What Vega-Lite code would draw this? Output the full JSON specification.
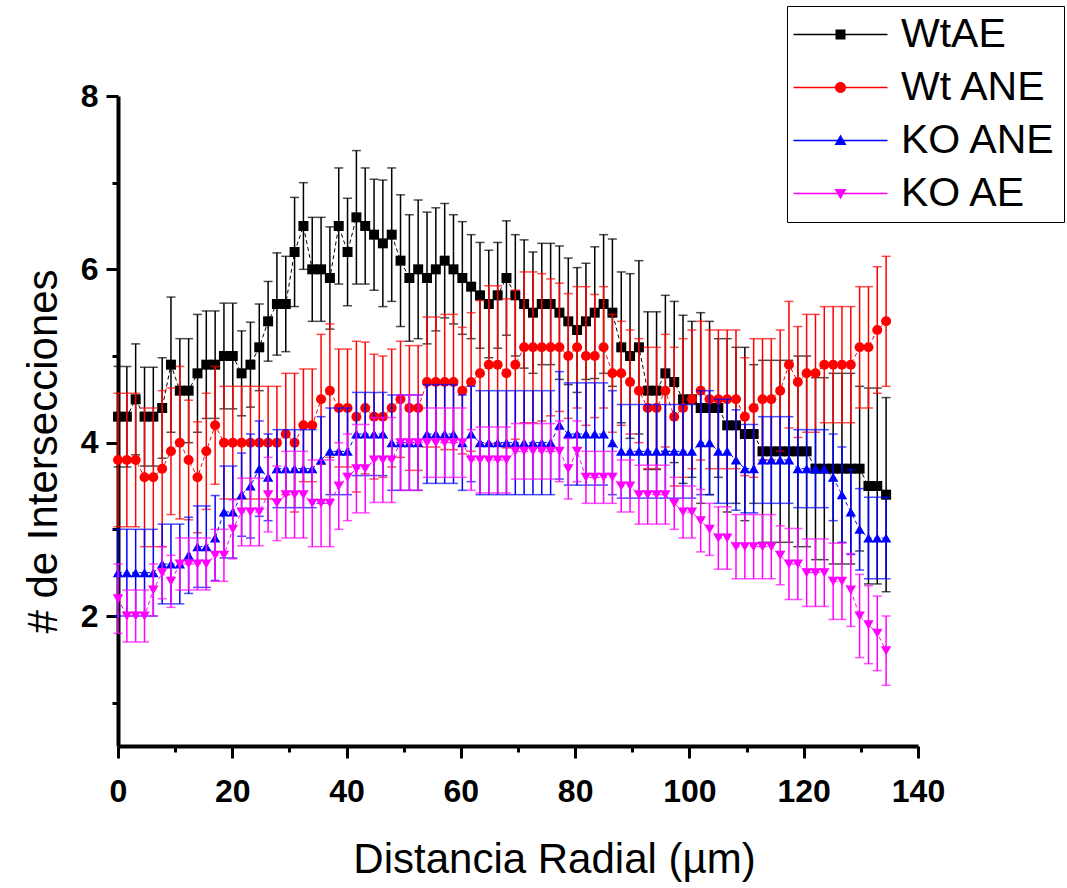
{
"$schema":"https://vega.github.io/schema/vega-lite/v6.json",
"width":800,"height":650,
"autosize":"none",
"padding":{"left":118,"top":96,"right":149,"bottom":142},
"background":"white",
"config":{"view":{"stroke":null},"font":"Liberation Sans"},
"data":{"values":[
{"s":"WtAE","x":0,"y":4.3,"e":0.58},{"s":"WtAE","x":1.55,"y":4.3,"e":0.58},{"s":"WtAE","x":3.09,"y":4.5,"e":0.64},{"s":"WtAE","x":4.64,"y":4.3,"e":0.57},{"s":"WtAE","x":6.18,"y":4.3,"e":0.57},{"s":"WtAE","x":7.73,"y":4.4,"e":0.58},{"s":"WtAE","x":9.27,"y":4.9,"e":0.78},{"s":"WtAE","x":10.82,"y":4.6,"e":0.6},{"s":"WtAE","x":12.36,"y":4.6,"e":0.6},{"s":"WtAE","x":13.91,"y":4.8,"e":0.68},{"s":"WtAE","x":15.45,"y":4.9,"e":0.62},{"s":"WtAE","x":17,"y":4.9,"e":0.62},{"s":"WtAE","x":18.54,"y":5.0,"e":0.61},{"s":"WtAE","x":20.09,"y":5.0,"e":0.61},{"s":"WtAE","x":21.63,"y":4.8,"e":0.49},{"s":"WtAE","x":23.18,"y":4.9,"e":0.49},{"s":"WtAE","x":24.72,"y":5.1,"e":0.5},{"s":"WtAE","x":26.27,"y":5.4,"e":0.46},{"s":"WtAE","x":27.81,"y":5.6,"e":0.59},{"s":"WtAE","x":29.36,"y":5.6,"e":0.55},{"s":"WtAE","x":30.9,"y":6.2,"e":0.63},{"s":"WtAE","x":32.45,"y":6.5,"e":0.5},{"s":"WtAE","x":33.99,"y":6.0,"e":0.6},{"s":"WtAE","x":35.54,"y":6.0,"e":0.6},{"s":"WtAE","x":37.08,"y":5.9,"e":0.59},{"s":"WtAE","x":38.63,"y":6.5,"e":0.67},{"s":"WtAE","x":40.17,"y":6.2,"e":0.62},{"s":"WtAE","x":41.72,"y":6.6,"e":0.77},{"s":"WtAE","x":43.26,"y":6.5,"e":0.67},{"s":"WtAE","x":44.81,"y":6.4,"e":0.64},{"s":"WtAE","x":46.35,"y":6.3,"e":0.73},{"s":"WtAE","x":47.9,"y":6.4,"e":0.77},{"s":"WtAE","x":49.44,"y":6.1,"e":0.76},{"s":"WtAE","x":50.99,"y":5.9,"e":0.73},{"s":"WtAE","x":52.53,"y":6.0,"e":0.8},{"s":"WtAE","x":54.08,"y":5.9,"e":0.76},{"s":"WtAE","x":55.62,"y":6.0,"e":0.71},{"s":"WtAE","x":57.17,"y":6.1,"e":0.66},{"s":"WtAE","x":58.71,"y":6.0,"e":0.63},{"s":"WtAE","x":60.26,"y":5.9,"e":0.65},{"s":"WtAE","x":61.8,"y":5.8,"e":0.6},{"s":"WtAE","x":63.35,"y":5.7,"e":0.61},{"s":"WtAE","x":64.89,"y":5.6,"e":0.62},{"s":"WtAE","x":66.44,"y":5.7,"e":0.61},{"s":"WtAE","x":67.98,"y":5.9,"e":0.66},{"s":"WtAE","x":69.53,"y":5.7,"e":0.7},{"s":"WtAE","x":71.07,"y":5.6,"e":0.74},{"s":"WtAE","x":72.62,"y":5.5,"e":0.7},{"s":"WtAE","x":74.16,"y":5.6,"e":0.7},{"s":"WtAE","x":75.71,"y":5.6,"e":0.7},{"s":"WtAE","x":77.25,"y":5.5,"e":0.77},{"s":"WtAE","x":78.8,"y":5.4,"e":0.73},{"s":"WtAE","x":80.34,"y":5.3,"e":0.72},{"s":"WtAE","x":81.89,"y":5.4,"e":0.67},{"s":"WtAE","x":83.43,"y":5.5,"e":0.76},{"s":"WtAE","x":84.98,"y":5.6,"e":0.8},{"s":"WtAE","x":86.52,"y":5.5,"e":0.85},{"s":"WtAE","x":88.07,"y":5.1,"e":0.87},{"s":"WtAE","x":89.61,"y":5.0,"e":0.95},{"s":"WtAE","x":91.16,"y":5.1,"e":1.0},{"s":"WtAE","x":92.7,"y":4.6,"e":0.91},{"s":"WtAE","x":94.25,"y":4.6,"e":0.91},{"s":"WtAE","x":95.79,"y":4.8,"e":0.9},{"s":"WtAE","x":97.34,"y":4.7,"e":0.93},{"s":"WtAE","x":98.88,"y":4.5,"e":0.97},{"s":"WtAE","x":100.43,"y":4.5,"e":0.9},{"s":"WtAE","x":101.97,"y":4.4,"e":1.1},{"s":"WtAE","x":103.52,"y":4.4,"e":1.0},{"s":"WtAE","x":105.06,"y":4.4,"e":0.8},{"s":"WtAE","x":106.61,"y":4.2,"e":1.0},{"s":"WtAE","x":108.15,"y":4.2,"e":0.9},{"s":"WtAE","x":109.7,"y":4.1,"e":1.0},{"s":"WtAE","x":111.24,"y":4.1,"e":0.8},{"s":"WtAE","x":112.79,"y":3.9,"e":1.05},{"s":"WtAE","x":114.33,"y":3.9,"e":1.05},{"s":"WtAE","x":115.88,"y":3.9,"e":1.05},{"s":"WtAE","x":117.42,"y":3.9,"e":1.05},{"s":"WtAE","x":118.97,"y":3.9,"e":1.1},{"s":"WtAE","x":120.51,"y":3.9,"e":1.1},{"s":"WtAE","x":122.06,"y":3.7,"e":1.05},{"s":"WtAE","x":123.6,"y":3.7,"e":1.05},{"s":"WtAE","x":125.15,"y":3.7,"e":1.1},{"s":"WtAE","x":126.69,"y":3.7,"e":1.1},{"s":"WtAE","x":128.24,"y":3.7,"e":1.1},{"s":"WtAE","x":129.78,"y":3.7,"e":0.95},{"s":"WtAE","x":131.33,"y":3.5,"e":1.13},{"s":"WtAE","x":132.87,"y":3.5,"e":1.13},{"s":"WtAE","x":134.42,"y":3.4,"e":1.12},
{"s":"Wt ANE","x":0,"y":3.8,"e":0.77},{"s":"Wt ANE","x":1.55,"y":3.8,"e":0.77},{"s":"Wt ANE","x":3.09,"y":3.8,"e":0.77},{"s":"Wt ANE","x":4.64,"y":3.6,"e":0.8},{"s":"Wt ANE","x":6.18,"y":3.6,"e":0.8},{"s":"Wt ANE","x":7.73,"y":3.7,"e":0.9},{"s":"Wt ANE","x":9.27,"y":3.9,"e":0.73},{"s":"Wt ANE","x":10.82,"y":4.0,"e":0.88},{"s":"Wt ANE","x":12.36,"y":3.8,"e":0.69},{"s":"Wt ANE","x":13.91,"y":3.6,"e":0.64},{"s":"Wt ANE","x":15.45,"y":3.9,"e":0.67},{"s":"Wt ANE","x":17,"y":4.2,"e":0.68},{"s":"Wt ANE","x":18.54,"y":4.0,"e":0.65},{"s":"Wt ANE","x":20.09,"y":4.0,"e":0.65},{"s":"Wt ANE","x":21.63,"y":4.0,"e":0.65},{"s":"Wt ANE","x":23.18,"y":4.0,"e":0.65},{"s":"Wt ANE","x":24.72,"y":4.0,"e":0.65},{"s":"Wt ANE","x":26.27,"y":4.0,"e":0.65},{"s":"Wt ANE","x":27.81,"y":4.0,"e":0.65},{"s":"Wt ANE","x":29.36,"y":4.1,"e":0.7},{"s":"Wt ANE","x":30.9,"y":4.0,"e":0.8},{"s":"Wt ANE","x":32.45,"y":4.2,"e":0.65},{"s":"Wt ANE","x":33.99,"y":4.2,"e":0.65},{"s":"Wt ANE","x":35.54,"y":4.5,"e":0.75},{"s":"Wt ANE","x":37.08,"y":4.6,"e":0.77},{"s":"Wt ANE","x":38.63,"y":4.4,"e":0.68},{"s":"Wt ANE","x":40.17,"y":4.4,"e":0.68},{"s":"Wt ANE","x":41.72,"y":4.3,"e":0.87},{"s":"Wt ANE","x":43.26,"y":4.4,"e":0.76},{"s":"Wt ANE","x":44.81,"y":4.3,"e":0.72},{"s":"Wt ANE","x":46.35,"y":4.3,"e":0.7},{"s":"Wt ANE","x":47.9,"y":4.4,"e":0.68},{"s":"Wt ANE","x":49.44,"y":4.5,"e":0.67},{"s":"Wt ANE","x":50.99,"y":4.4,"e":0.72},{"s":"Wt ANE","x":52.53,"y":4.4,"e":0.72},{"s":"Wt ANE","x":54.08,"y":4.7,"e":0.75},{"s":"Wt ANE","x":55.62,"y":4.7,"e":0.75},{"s":"Wt ANE","x":57.17,"y":4.7,"e":0.78},{"s":"Wt ANE","x":58.71,"y":4.7,"e":0.78},{"s":"Wt ANE","x":60.26,"y":4.6,"e":0.73},{"s":"Wt ANE","x":61.8,"y":4.7,"e":0.8},{"s":"Wt ANE","x":63.35,"y":4.8,"e":0.84},{"s":"Wt ANE","x":64.89,"y":4.9,"e":0.91},{"s":"Wt ANE","x":66.44,"y":4.9,"e":0.91},{"s":"Wt ANE","x":67.98,"y":4.8,"e":0.86},{"s":"Wt ANE","x":69.53,"y":4.9,"e":0.86},{"s":"Wt ANE","x":71.07,"y":5.1,"e":0.87},{"s":"Wt ANE","x":72.62,"y":5.1,"e":0.87},{"s":"Wt ANE","x":74.16,"y":5.1,"e":0.85},{"s":"Wt ANE","x":75.71,"y":5.1,"e":0.79},{"s":"Wt ANE","x":77.25,"y":5.1,"e":0.74},{"s":"Wt ANE","x":78.8,"y":5.0,"e":0.72},{"s":"Wt ANE","x":80.34,"y":5.1,"e":0.7},{"s":"Wt ANE","x":81.89,"y":5.0,"e":0.8},{"s":"Wt ANE","x":83.43,"y":5.0,"e":0.71},{"s":"Wt ANE","x":84.98,"y":5.1,"e":0.7},{"s":"Wt ANE","x":86.52,"y":4.8,"e":0.68},{"s":"Wt ANE","x":88.07,"y":4.8,"e":0.6},{"s":"Wt ANE","x":89.61,"y":4.7,"e":0.6},{"s":"Wt ANE","x":91.16,"y":4.6,"e":0.6},{"s":"Wt ANE","x":92.7,"y":4.4,"e":0.7},{"s":"Wt ANE","x":94.25,"y":4.4,"e":0.7},{"s":"Wt ANE","x":95.79,"y":4.6,"e":0.65},{"s":"Wt ANE","x":97.34,"y":4.3,"e":0.8},{"s":"Wt ANE","x":98.88,"y":4.4,"e":0.8},{"s":"Wt ANE","x":100.43,"y":4.5,"e":0.8},{"s":"Wt ANE","x":101.97,"y":4.6,"e":0.8},{"s":"Wt ANE","x":103.52,"y":4.5,"e":0.8},{"s":"Wt ANE","x":105.06,"y":4.5,"e":0.8},{"s":"Wt ANE","x":106.61,"y":4.5,"e":0.8},{"s":"Wt ANE","x":108.15,"y":4.5,"e":0.8},{"s":"Wt ANE","x":109.7,"y":4.3,"e":0.68},{"s":"Wt ANE","x":111.24,"y":4.4,"e":0.8},{"s":"Wt ANE","x":112.79,"y":4.5,"e":0.7},{"s":"Wt ANE","x":114.33,"y":4.5,"e":0.7},{"s":"Wt ANE","x":115.88,"y":4.6,"e":0.7},{"s":"Wt ANE","x":117.42,"y":4.9,"e":0.73},{"s":"Wt ANE","x":118.97,"y":4.7,"e":0.64},{"s":"Wt ANE","x":120.51,"y":4.8,"e":0.68},{"s":"Wt ANE","x":122.06,"y":4.8,"e":0.68},{"s":"Wt ANE","x":123.6,"y":4.9,"e":0.67},{"s":"Wt ANE","x":125.15,"y":4.9,"e":0.67},{"s":"Wt ANE","x":126.69,"y":4.9,"e":0.67},{"s":"Wt ANE","x":128.24,"y":4.9,"e":0.67},{"s":"Wt ANE","x":129.78,"y":5.1,"e":0.7},{"s":"Wt ANE","x":131.33,"y":5.1,"e":0.7},{"s":"Wt ANE","x":132.87,"y":5.3,"e":0.73},{"s":"Wt ANE","x":134.42,"y":5.4,"e":0.75},
{"s":"KO ANE","x":0,"y":2.5,"e":0.5},{"s":"KO ANE","x":1.55,"y":2.5,"e":0.5},{"s":"KO ANE","x":3.09,"y":2.5,"e":0.5},{"s":"KO ANE","x":4.64,"y":2.5,"e":0.5},{"s":"KO ANE","x":6.18,"y":2.5,"e":0.5},{"s":"KO ANE","x":7.73,"y":2.6,"e":0.46},{"s":"KO ANE","x":9.27,"y":2.6,"e":0.46},{"s":"KO ANE","x":10.82,"y":2.6,"e":0.46},{"s":"KO ANE","x":12.36,"y":2.7,"e":0.44},{"s":"KO ANE","x":13.91,"y":2.8,"e":0.47},{"s":"KO ANE","x":15.45,"y":2.8,"e":0.47},{"s":"KO ANE","x":17,"y":2.9,"e":0.49},{"s":"KO ANE","x":18.54,"y":3.2,"e":0.53},{"s":"KO ANE","x":20.09,"y":3.2,"e":0.53},{"s":"KO ANE","x":21.63,"y":3.4,"e":0.48},{"s":"KO ANE","x":23.18,"y":3.5,"e":0.6},{"s":"KO ANE","x":24.72,"y":3.7,"e":0.55},{"s":"KO ANE","x":26.27,"y":3.6,"e":0.5},{"s":"KO ANE","x":27.81,"y":3.7,"e":0.45},{"s":"KO ANE","x":29.36,"y":3.7,"e":0.45},{"s":"KO ANE","x":30.9,"y":3.7,"e":0.45},{"s":"KO ANE","x":32.45,"y":3.7,"e":0.45},{"s":"KO ANE","x":33.99,"y":3.7,"e":0.45},{"s":"KO ANE","x":35.54,"y":3.8,"e":0.5},{"s":"KO ANE","x":37.08,"y":3.9,"e":0.5},{"s":"KO ANE","x":38.63,"y":3.9,"e":0.5},{"s":"KO ANE","x":40.17,"y":3.9,"e":0.5},{"s":"KO ANE","x":41.72,"y":4.1,"e":0.48},{"s":"KO ANE","x":43.26,"y":4.1,"e":0.48},{"s":"KO ANE","x":44.81,"y":4.1,"e":0.48},{"s":"KO ANE","x":46.35,"y":4.1,"e":0.48},{"s":"KO ANE","x":47.9,"y":4.0,"e":0.55},{"s":"KO ANE","x":49.44,"y":4.0,"e":0.55},{"s":"KO ANE","x":50.99,"y":4.0,"e":0.55},{"s":"KO ANE","x":52.53,"y":4.0,"e":0.55},{"s":"KO ANE","x":54.08,"y":4.1,"e":0.57},{"s":"KO ANE","x":55.62,"y":4.1,"e":0.57},{"s":"KO ANE","x":57.17,"y":4.1,"e":0.57},{"s":"KO ANE","x":58.71,"y":4.1,"e":0.57},{"s":"KO ANE","x":60.26,"y":4.0,"e":0.55},{"s":"KO ANE","x":61.8,"y":4.1,"e":0.55},{"s":"KO ANE","x":63.35,"y":4.0,"e":0.6},{"s":"KO ANE","x":64.89,"y":4.0,"e":0.6},{"s":"KO ANE","x":66.44,"y":4.0,"e":0.6},{"s":"KO ANE","x":67.98,"y":4.0,"e":0.6},{"s":"KO ANE","x":69.53,"y":4.0,"e":0.6},{"s":"KO ANE","x":71.07,"y":4.0,"e":0.6},{"s":"KO ANE","x":72.62,"y":4.0,"e":0.6},{"s":"KO ANE","x":74.16,"y":4.0,"e":0.6},{"s":"KO ANE","x":75.71,"y":4.0,"e":0.6},{"s":"KO ANE","x":77.25,"y":4.2,"e":0.62},{"s":"KO ANE","x":78.8,"y":4.1,"e":0.59},{"s":"KO ANE","x":80.34,"y":4.1,"e":0.59},{"s":"KO ANE","x":81.89,"y":4.1,"e":0.59},{"s":"KO ANE","x":83.43,"y":4.1,"e":0.59},{"s":"KO ANE","x":84.98,"y":4.1,"e":0.59},{"s":"KO ANE","x":86.52,"y":4.0,"e":0.6},{"s":"KO ANE","x":88.07,"y":3.9,"e":0.54},{"s":"KO ANE","x":89.61,"y":3.9,"e":0.54},{"s":"KO ANE","x":91.16,"y":3.9,"e":0.54},{"s":"KO ANE","x":92.7,"y":3.9,"e":0.54},{"s":"KO ANE","x":94.25,"y":3.9,"e":0.54},{"s":"KO ANE","x":95.79,"y":3.9,"e":0.54},{"s":"KO ANE","x":97.34,"y":3.9,"e":0.54},{"s":"KO ANE","x":98.88,"y":3.9,"e":0.54},{"s":"KO ANE","x":100.43,"y":3.9,"e":0.54},{"s":"KO ANE","x":101.97,"y":4.0,"e":0.6},{"s":"KO ANE","x":103.52,"y":4.0,"e":0.6},{"s":"KO ANE","x":105.06,"y":3.9,"e":0.6},{"s":"KO ANE","x":106.61,"y":3.9,"e":0.6},{"s":"KO ANE","x":108.15,"y":3.8,"e":0.58},{"s":"KO ANE","x":109.7,"y":3.7,"e":0.51},{"s":"KO ANE","x":111.24,"y":3.7,"e":0.51},{"s":"KO ANE","x":112.79,"y":3.8,"e":0.5},{"s":"KO ANE","x":114.33,"y":3.8,"e":0.5},{"s":"KO ANE","x":115.88,"y":3.8,"e":0.5},{"s":"KO ANE","x":117.42,"y":3.8,"e":0.5},{"s":"KO ANE","x":118.97,"y":3.7,"e":0.45},{"s":"KO ANE","x":120.51,"y":3.7,"e":0.45},{"s":"KO ANE","x":122.06,"y":3.7,"e":0.45},{"s":"KO ANE","x":123.6,"y":3.7,"e":0.45},{"s":"KO ANE","x":125.15,"y":3.6,"e":0.5},{"s":"KO ANE","x":126.69,"y":3.4,"e":0.55},{"s":"KO ANE","x":128.24,"y":3.2,"e":0.49},{"s":"KO ANE","x":129.78,"y":3.0,"e":0.47},{"s":"KO ANE","x":131.33,"y":2.9,"e":0.47},{"s":"KO ANE","x":132.87,"y":2.9,"e":0.47},{"s":"KO ANE","x":134.42,"y":2.9,"e":0.47},
{"s":"KO AE","x":0,"y":2.2,"e":0.4},{"s":"KO AE","x":1.55,"y":2.0,"e":0.3},{"s":"KO AE","x":3.09,"y":2.0,"e":0.3},{"s":"KO AE","x":4.64,"y":2.0,"e":0.3},{"s":"KO AE","x":6.18,"y":2.3,"e":0.3},{"s":"KO AE","x":7.73,"y":2.5,"e":0.3},{"s":"KO AE","x":9.27,"y":2.4,"e":0.3},{"s":"KO AE","x":10.82,"y":2.6,"e":0.3},{"s":"KO AE","x":12.36,"y":2.6,"e":0.3},{"s":"KO AE","x":13.91,"y":2.6,"e":0.3},{"s":"KO AE","x":15.45,"y":2.6,"e":0.3},{"s":"KO AE","x":17,"y":2.7,"e":0.3},{"s":"KO AE","x":18.54,"y":2.7,"e":0.3},{"s":"KO AE","x":20.09,"y":3.0,"e":0.34},{"s":"KO AE","x":21.63,"y":3.2,"e":0.39},{"s":"KO AE","x":23.18,"y":3.2,"e":0.39},{"s":"KO AE","x":24.72,"y":3.2,"e":0.39},{"s":"KO AE","x":26.27,"y":3.4,"e":0.43},{"s":"KO AE","x":27.81,"y":3.3,"e":0.43},{"s":"KO AE","x":29.36,"y":3.4,"e":0.5},{"s":"KO AE","x":30.9,"y":3.4,"e":0.5},{"s":"KO AE","x":32.45,"y":3.4,"e":0.5},{"s":"KO AE","x":33.99,"y":3.3,"e":0.5},{"s":"KO AE","x":35.54,"y":3.3,"e":0.5},{"s":"KO AE","x":37.08,"y":3.3,"e":0.5},{"s":"KO AE","x":38.63,"y":3.5,"e":0.5},{"s":"KO AE","x":40.17,"y":3.6,"e":0.5},{"s":"KO AE","x":41.72,"y":3.7,"e":0.51},{"s":"KO AE","x":43.26,"y":3.7,"e":0.51},{"s":"KO AE","x":44.81,"y":3.8,"e":0.49},{"s":"KO AE","x":46.35,"y":3.8,"e":0.49},{"s":"KO AE","x":47.9,"y":3.8,"e":0.49},{"s":"KO AE","x":49.44,"y":4.0,"e":0.55},{"s":"KO AE","x":50.99,"y":4.0,"e":0.55},{"s":"KO AE","x":52.53,"y":4.0,"e":0.55},{"s":"KO AE","x":54.08,"y":4.0,"e":0.4},{"s":"KO AE","x":55.62,"y":4.0,"e":0.4},{"s":"KO AE","x":57.17,"y":4.0,"e":0.4},{"s":"KO AE","x":58.71,"y":4.0,"e":0.4},{"s":"KO AE","x":60.26,"y":4.0,"e":0.4},{"s":"KO AE","x":61.8,"y":3.8,"e":0.35},{"s":"KO AE","x":63.35,"y":3.8,"e":0.38},{"s":"KO AE","x":64.89,"y":3.8,"e":0.38},{"s":"KO AE","x":66.44,"y":3.8,"e":0.38},{"s":"KO AE","x":67.98,"y":3.8,"e":0.38},{"s":"KO AE","x":69.53,"y":3.9,"e":0.32},{"s":"KO AE","x":71.07,"y":3.9,"e":0.32},{"s":"KO AE","x":72.62,"y":3.9,"e":0.32},{"s":"KO AE","x":74.16,"y":3.9,"e":0.32},{"s":"KO AE","x":75.71,"y":3.9,"e":0.32},{"s":"KO AE","x":77.25,"y":3.9,"e":0.35},{"s":"KO AE","x":78.8,"y":3.7,"e":0.35},{"s":"KO AE","x":80.34,"y":3.9,"e":0.35},{"s":"KO AE","x":81.89,"y":3.6,"e":0.3},{"s":"KO AE","x":83.43,"y":3.6,"e":0.3},{"s":"KO AE","x":84.98,"y":3.6,"e":0.3},{"s":"KO AE","x":86.52,"y":3.6,"e":0.3},{"s":"KO AE","x":88.07,"y":3.5,"e":0.3},{"s":"KO AE","x":89.61,"y":3.5,"e":0.3},{"s":"KO AE","x":91.16,"y":3.4,"e":0.34},{"s":"KO AE","x":92.7,"y":3.4,"e":0.34},{"s":"KO AE","x":94.25,"y":3.4,"e":0.34},{"s":"KO AE","x":95.79,"y":3.4,"e":0.34},{"s":"KO AE","x":97.34,"y":3.3,"e":0.3},{"s":"KO AE","x":98.88,"y":3.2,"e":0.3},{"s":"KO AE","x":100.43,"y":3.2,"e":0.3},{"s":"KO AE","x":101.97,"y":3.1,"e":0.36},{"s":"KO AE","x":103.52,"y":3.0,"e":0.3},{"s":"KO AE","x":105.06,"y":2.9,"e":0.36},{"s":"KO AE","x":106.61,"y":2.9,"e":0.36},{"s":"KO AE","x":108.15,"y":2.8,"e":0.37},{"s":"KO AE","x":109.7,"y":2.8,"e":0.37},{"s":"KO AE","x":111.24,"y":2.8,"e":0.37},{"s":"KO AE","x":112.79,"y":2.8,"e":0.37},{"s":"KO AE","x":114.33,"y":2.8,"e":0.37},{"s":"KO AE","x":115.88,"y":2.7,"e":0.34},{"s":"KO AE","x":117.42,"y":2.6,"e":0.41},{"s":"KO AE","x":118.97,"y":2.6,"e":0.41},{"s":"KO AE","x":120.51,"y":2.5,"e":0.39},{"s":"KO AE","x":122.06,"y":2.5,"e":0.39},{"s":"KO AE","x":123.6,"y":2.5,"e":0.39},{"s":"KO AE","x":125.15,"y":2.4,"e":0.44},{"s":"KO AE","x":126.69,"y":2.4,"e":0.44},{"s":"KO AE","x":128.24,"y":2.3,"e":0.42},{"s":"KO AE","x":129.78,"y":2.0,"e":0.48},{"s":"KO AE","x":131.33,"y":1.9,"e":0.45},{"s":"KO AE","x":132.87,"y":1.8,"e":0.43},{"s":"KO AE","x":134.42,"y":1.6,"e":0.4}
]},
"encoding":{
 "x":{"field":"x","type":"quantitative","scale":{"domain":[0,140],"nice":false,"zero":false},
  "axis":{"values":[0,10,20,30,40,50,60,70,80,90,100,110,120,130,140],"labelExpr":"datum.value % 20 === 0 ? datum.label : ''",
   "tickSize":{"condition":{"test":"datum.value % 20 === 0","value":12},"value":6},"tickWidth":3,"tickColor":"#000",
   "domainWidth":4,"domainColor":"#000","grid":false,"labelFlush":false,"labelOverlap":false,
   "labelFont":"Liberation Sans","labelFontWeight":"bold","labelFontSize":32,"labelColor":"#000","labelPadding":18,
   "title":"Distancia Radial (µm)","titleFont":"Liberation Sans","titleFontWeight":"normal","titleFontSize":42,"titleColor":"#000",
   "titleX":436,"titleY":126,"titleBaseline":"alphabetic","titleAlign":"center"}},
 "y":{"field":"y","type":"quantitative","scale":{"domain":[0.5,8],"nice":false,"zero":false},
  "axis":{"values":[1,2,3,4,5,6,7,8],"labelExpr":"datum.value % 2 === 0 ? datum.label : ''",
   "tickSize":{"condition":{"test":"datum.value % 2 === 0","value":12},"value":6},"tickWidth":3,"tickColor":"#000",
   "domainWidth":4,"domainColor":"#000","grid":false,"labelFlush":false,"labelOverlap":false,
   "labelFont":"Liberation Sans","labelFontWeight":"bold","labelFontSize":32,"labelColor":"#000","labelPadding":8,
   "title":"# de Intersecciones","titleFont":"Liberation Sans","titleFontWeight":"normal","titleFontSize":42,"titleColor":"#000",
   "titleX":-62,"titleY":355,"titleAngle":-90,"titleBaseline":"alphabetic","titleAlign":"center"}}
},
"layer":[
 {"transform":[{"filter":"datum.s === 'WtAE'"}],"encoding":{"color":{"value":"#000000"}},"layer":[
  {"mark":{"type":"errorbar","ticks":{"size":9},"thickness":1.5},"encoding":{"yError":{"field":"e"}}},
  {"mark":{"type":"line","strokeWidth":1,"strokeDash":[4,3]},"encoding":{}},
  {"mark":{"type":"point","shape":"square","filled":true,"size":100,"opacity":1},"encoding":{}}
 ]},
 {"transform":[{"filter":"datum.s === 'Wt ANE'"}],"encoding":{"color":{"value":"#FF0000"}},"layer":[
  {"mark":{"type":"errorbar","ticks":{"size":9},"thickness":1.5},"encoding":{"yError":{"field":"e"}}},
  {"mark":{"type":"line","strokeWidth":1,"strokeDash":[4,3]},"encoding":{}},
  {"mark":{"type":"point","shape":"circle","filled":true,"size":100,"opacity":1},"encoding":{}}
 ]},
 {"transform":[{"filter":"datum.s === 'KO ANE'"}],"encoding":{"color":{"value":"#0000FF"}},"layer":[
  {"mark":{"type":"errorbar","ticks":{"size":9},"thickness":1.5},"encoding":{"yError":{"field":"e"}}},
  {"mark":{"type":"line","strokeWidth":1,"strokeDash":[4,3]},"encoding":{}},
  {"mark":{"type":"point","shape":"triangle-up","filled":true,"size":110,"opacity":1},"encoding":{}}
 ]},
 {"transform":[{"filter":"datum.s === 'KO AE'"}],"encoding":{"color":{"value":"#FF00FF"}},"layer":[
  {"mark":{"type":"errorbar","ticks":{"size":9},"thickness":1.5},"encoding":{"yError":{"field":"e"}}},
  {"mark":{"type":"line","strokeWidth":1,"strokeDash":[4,3]},"encoding":{}},
  {"mark":{"type":"point","shape":"triangle-down","filled":true,"size":110,"opacity":1},"encoding":{}}
 ]},
 {"transform":[{"filter":"false"}],
  "mark":{"type":"point","filled":true},
  "encoding":{
   "color":{"field":"s","type":"nominal","scale":{"domain":["WtAE","Wt ANE","KO ANE","KO AE"],"range":["#000000","#FF0000","#0000FF","#FF00FF"]},
    "legend":{"orient":"none","legendX":669,"legendY":-90,"title":null,"strokeColor":"#000","fillColor":"#FFFFFF","padding":8,
     "symbolSize":400,"symbolOffset":25,"symbolStrokeWidth":0,"symbolOpacity":1,"labelOffset":40,"labelFont":"Liberation Sans","labelFontSize":41,"labelColor":"#000","labelLimit":400,"rowPadding":11,
     "encode":{"legend":{"strokeWidth":{"value":1.5}}}}},
   "shape":{"field":"s","type":"nominal","scale":{"domain":["WtAE","Wt ANE","KO ANE","KO AE"],"range":[
     "M-4.7,-0.07H4.7V0.07H-4.7ZM-0.5,-0.5H0.5V0.5H-0.5Z",
     "M-4.7,-0.07H4.7V0.07H-4.7ZM-0.55,0A0.55,0.55,0,1,1,0.55,0A0.55,0.55,0,1,1,-0.55,0Z",
     "M-4.7,-0.07H4.7V0.07H-4.7ZM0,-0.6L0.6,0.45H-0.6Z",
     "M-4.7,-0.07H4.7V0.07H-4.7ZM0,0.6L-0.6,-0.45H0.6Z"]},
    "legend":{"orient":"none","legendX":669,"legendY":-90,"title":null,"strokeColor":"#000","fillColor":"#FFFFFF","padding":8,
     "symbolSize":400,"symbolOffset":25,"symbolStrokeWidth":0,"symbolOpacity":1,"labelOffset":40,"labelFont":"Liberation Sans","labelFontSize":41,"labelColor":"#000","labelLimit":400,"rowPadding":11,
     "encode":{"legend":{"strokeWidth":{"value":1.5}}}}}
  }}
]
}
